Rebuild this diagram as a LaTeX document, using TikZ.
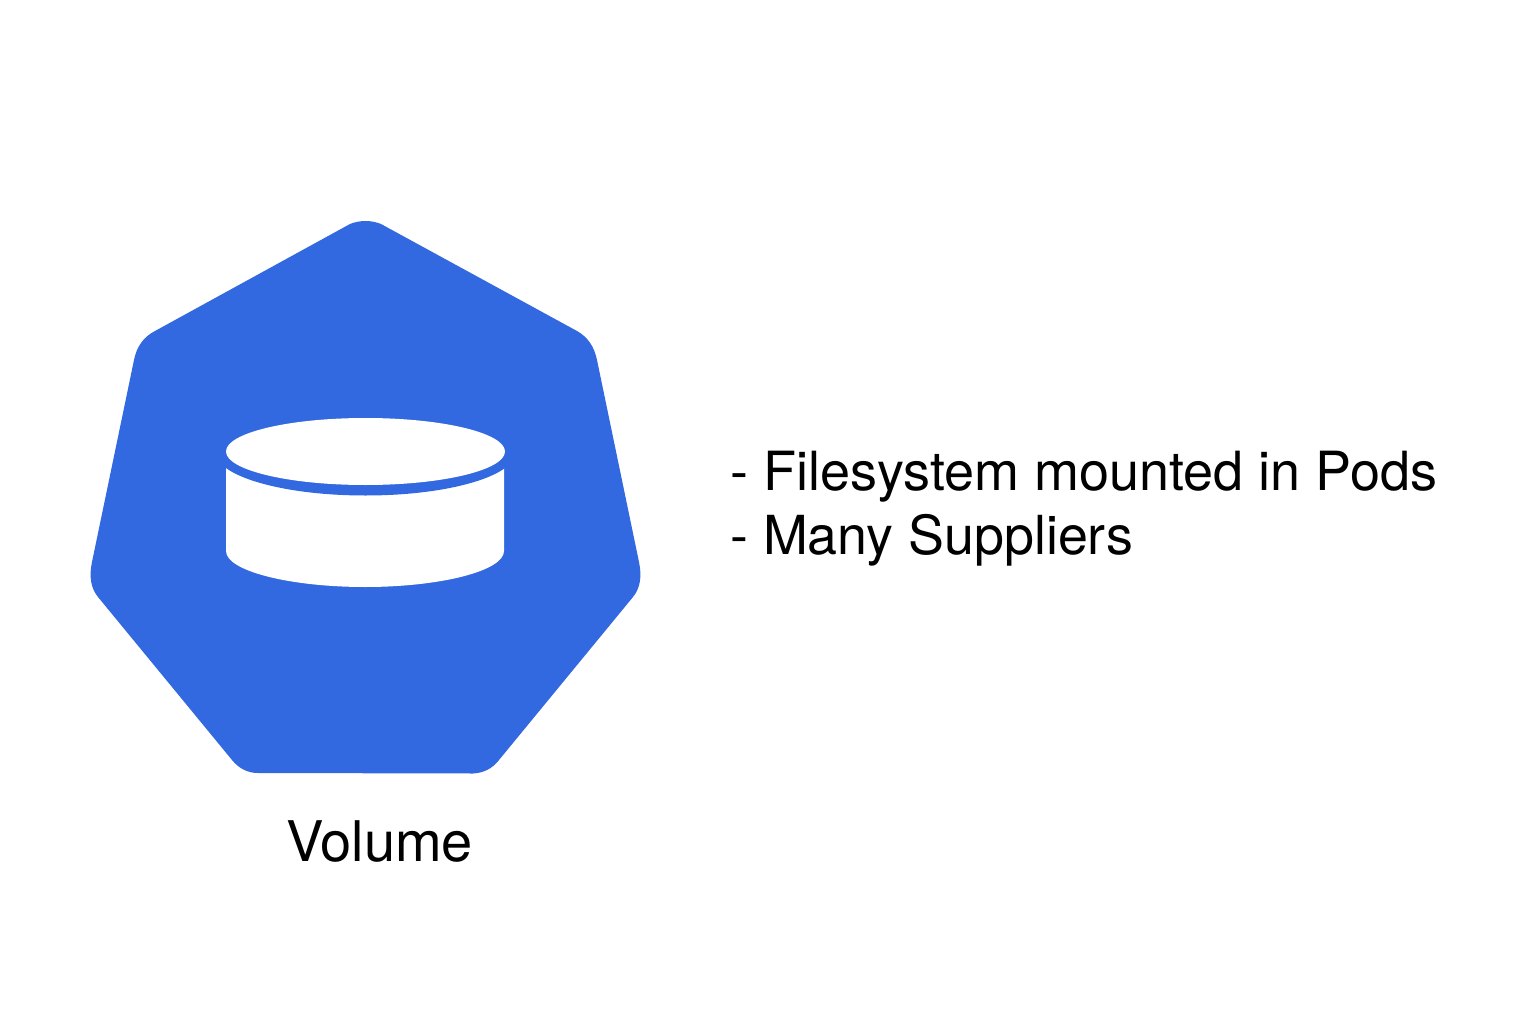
\documentclass[tikz,border=0pt]{standalone}
\usepackage{fontspec}
\setmainfont{TeX Gyre Heros}
\definecolor{kblue}{HTML}{3268E0}
\begin{document}
\begin{tikzpicture}[x=1pt,y=-1pt,
  lab/.style={inner sep=0pt,anchor=base west,font=\fontsize{54}{54}\selectfont,text=black}]
\useasboundingbox (0,0) rectangle (1536,1024);
\fill[kblue] (350,224) .. controls (360.3,220) and (370.7,220) .. (381,224)
  -- (577,331) .. controls (587.7,337) and (594.3,346.7) .. (597,360)
  -- (639,562) .. controls (642.1,576.7) and (640.1,588.3) .. (633,597)
  -- (499,760) .. controls (492.5,768.7) and (483.2,773) .. (473,773.5)
  -- (258,773) .. controls (247.9,773) and (239.1,768.7) .. (232,760)
  -- (98,597) .. controls (90.9,588.3) and (88.9,576.7) .. (92,562)
  -- (134,360) .. controls (136.7,346.7) and (143.3,337) .. (155,331) -- cycle;
\fill[white] (226,452) -- (226,551) .. controls (226,571) and (290,587) .. (365,587) .. controls (440,587) and (504,571) .. (504,551) -- (504,452) -- cycle;
\fill[kblue] (365.5,452) ellipse [x radius=150, y radius=43.5];
\fill[white] (365.5,451.5) ellipse [x radius=139.5, y radius=33.5];
\node[lab,font=\fontsize{56}{56}\selectfont] (vol) at (286,861) {Volume};
\node[lab] (l1) at (730,490) {- Filesystem mounted in Pods};
\node[lab,font=\fontsize{53.8}{54}\selectfont] (l2) at (730,554) {- Many Suppliers};
\end{tikzpicture}
\end{document}
